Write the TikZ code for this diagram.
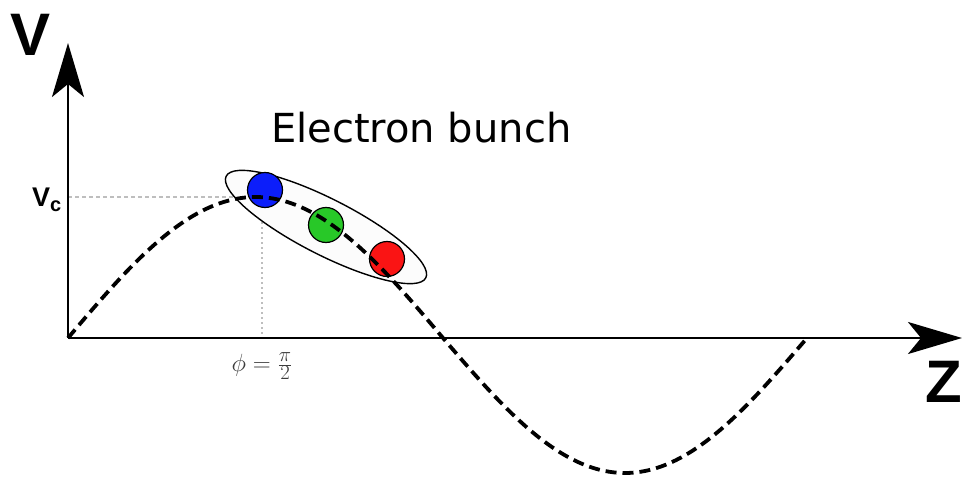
\documentclass[tikz,border=0pt]{standalone}
\usepackage{fontspec}
\usetikzlibrary{arrows.meta}
\newfontfamily\djv{DejaVu Sans}
\newfontfamily\lsans{Liberation Sans}
\definecolor{ballblue}{RGB}{12,30,250}
\definecolor{ballgreen}{RGB}{40,200,40}
\definecolor{ballred}{RGB}{250,20,20}
\definecolor{guidegray}{RGB}{190,190,190}
\definecolor{labelgray}{RGB}{60,60,60}
\tikzset{
  axisline/.style={line width=2.4pt, -{Stealth[length=54pt,width=32pt,inset=13pt]}},
  guide/.style={guidegray, line width=1.2pt, dash pattern=on 4pt off 3pt},
  wave/.style={line width=3.8pt, dash pattern=on 11pt off 6pt},
  ball/.style={circle, draw=black, line width=1.2pt, minimum size=35pt, inner sep=0pt},
  bunch/.style={draw=black, line width=1.4pt, fill=white!99!black},
  axislabel/.style={font=\lsans\bfseries\fontsize{60}{60}\selectfont, inner sep=0pt},
}
\begin{document}
\begin{tikzpicture}[x=1pt,y=-1pt]
\useasboundingbox (0,0) rectangle (963,481);
\coordinate (O) at (68,338);
\coordinate (ytip) at (68,43);
\coordinate (xtip) at (962,338);
\coordinate (vcl) at (68,197);
\coordinate (peak) at (262,197);
\coordinate (phib) at (262,338);
% guide lines
\draw[guide] (vcl) -- (peak);
\draw[guide, dash pattern=on 2pt off 3pt] (peak) -- (phib);
% axes
\draw[axisline] (O) -- (ytip);
\draw[axisline] (O) -- (xtip);
% bunch ellipse
\draw[bunch, rotate around={-27:(326,227)}] (326,227) ellipse [x radius=112pt, y radius=28pt];
% electrons
\node[ball, fill=ballblue] (eb) at (265,190) {};
\node[ball, fill=ballgreen] (eg) at (326,225) {};
\node[ball, fill=ballred] (er) at (387,259) {};
% wave
\draw[wave] plot[domain=68:443, samples=120, smooth] (\x, {338-141*sin(0.48*(\x-68))})
  -- plot[domain=443:807, samples=120, smooth] (\x, {338+135*sin(0.494505*(\x-443))});
% labels
\node[axislabel, anchor=base west] (vlab) at (10,56) {V};
\node[axislabel, anchor=base east] (zlab) at (962,402) {Z};
\node[font=\lsans\bfseries\fontsize{27}{27}\selectfont, inner sep=0pt, anchor=base west] (vc) at (32,207) {V\raisebox{-5pt}{\fontsize{20}{20}\selectfont c}};
\node[font=\djv\fontsize{40}{40}\selectfont, inner sep=0pt, anchor=base west] (title) at (271,143) {Electron bunch};
\node[text=labelgray, font=\fontsize{29}{29}\selectfont, inner sep=0pt] (phi) at (262,366) {$\phi=\frac{\pi}{2}$};
\end{tikzpicture}
\end{document}
